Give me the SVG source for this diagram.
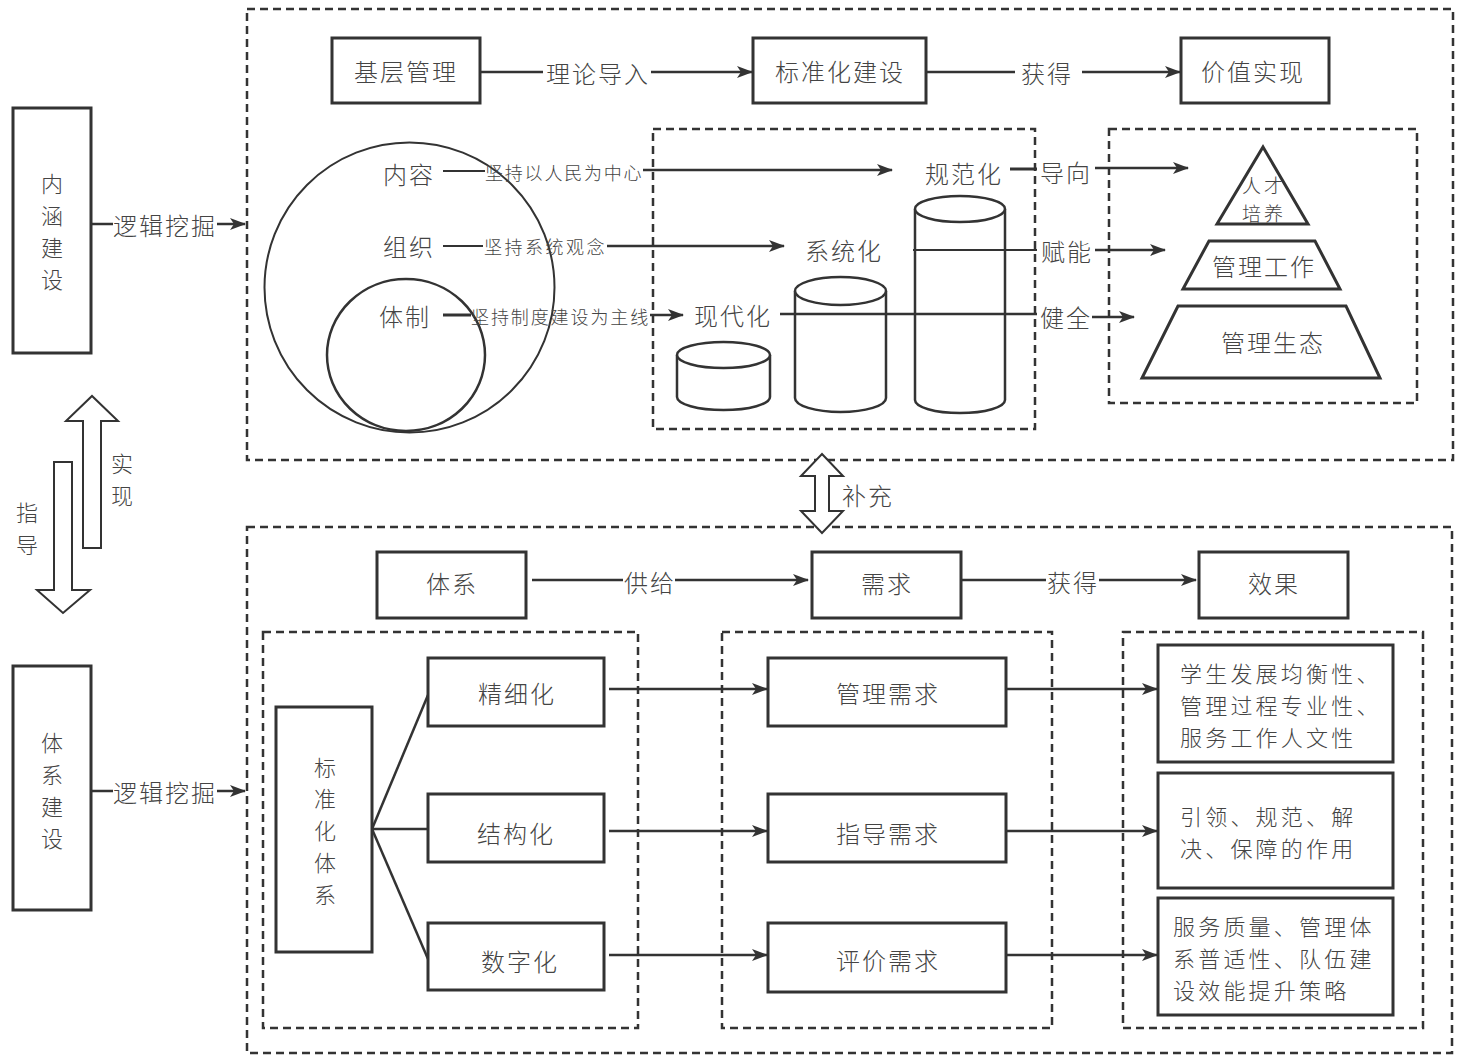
<svg xmlns="http://www.w3.org/2000/svg" width="1461" height="1059" viewBox="0 0 1461 1059">
<defs>
<style>
text{font-family:"Noto Sans CJK SC","Noto Sans",sans-serif;fill:#444;font-weight:300;dominant-baseline:central}
.t24{font-size:24px;letter-spacing:2px;text-anchor:middle}
.v22{font-size:22px;text-anchor:middle}
.t20{font-size:19px;letter-spacing:3px;text-anchor:middle}
.t18{font-size:18px}
.lft{font-size:22px;letter-spacing:3.2px;text-anchor:start}
.box{fill:#fff;stroke:#333;stroke-width:3}
.dash{fill:none;stroke:#333;stroke-width:2.5;stroke-dasharray:8 5}
.ln{fill:none;stroke:#333;stroke-width:2.5}
.ar{fill:none;stroke:#333;stroke-width:2.5;marker-end:url(#ah)}
.shape{fill:#fff;stroke:#333;stroke-width:2.5}
.hollow{fill:#fff;stroke:#333;stroke-width:2}
</style>
<marker id="ah" viewBox="0 0 16 12" refX="15" refY="6" markerWidth="16" markerHeight="12" markerUnits="userSpaceOnUse" orient="auto">
<path d="M0,0 L16,6 L0,12 L4,6 Z" fill="#333"/>
</marker>
</defs>
<rect width="1461" height="1059" fill="#fff"/>

<!-- frames -->
<g id="frames">
<rect class="dash" x="247" y="9" width="1206" height="451"/>
<rect class="dash" x="653" y="129" width="382" height="300"/>
<rect class="dash" x="1109" y="129" width="308" height="274"/>
<rect class="dash" x="247" y="527" width="1205" height="526"/>
<rect class="dash" x="263" y="632" width="375" height="396"/>
<rect class="dash" x="722" y="632" width="330" height="396"/>
<rect class="dash" x="1123" y="632" width="300" height="396"/>
</g>

<!-- left side -->
<g id="neihan">
<rect class="box" x="13" y="108" width="78" height="245"/>
<text class="v22" x="52" y="182"><tspan x="52" y="182">内</tspan><tspan x="52" y="214">涵</tspan><tspan x="52" y="246">建</tspan><tspan x="52" y="278">设</tspan></text>
</g>
<g id="tixijianshe">
<rect class="box" x="13" y="666" width="78" height="244"/>
<text class="v22" x="52" y="741"><tspan x="52" y="741">体</tspan><tspan x="52" y="773">系</tspan><tspan x="52" y="805">建</tspan><tspan x="52" y="837">设</tspan></text>
</g>
<g id="updown">
<polygon class="hollow" points="83,548 83,421 66,421 92,396 118,421 101,421 101,548"/>
<polygon class="hollow" points="54,462 72,462 72,590 90,590 63,613 37,590 54,590"/>
<text class="v22" x="122" y="462"><tspan x="122" y="462">实</tspan><tspan x="122" y="494">现</tspan></text>
<text class="v22" x="27" y="511"><tspan x="27" y="511">指</tspan><tspan x="27" y="543">导</tspan></text>
</g>
<g id="buchong">
<polygon class="hollow" points="822,454 843,476 829,476 829,511 843,511 822,533 801,511 815,511 815,476 801,476"/>
<text class="t24" x="868" y="494">补充</text>
</g>

<!-- top section nodes -->
<g id="jiceng"><rect class="box" x="332" y="38" width="148" height="65"/><text class="t24" x="406" y="70">基层管理</text></g>
<g id="biaozhunhua"><rect class="box" x="753" y="38" width="173" height="65"/><text class="t24" x="840" y="70">标准化建设</text></g>
<g id="jiazhi"><rect class="box" x="1181" y="38" width="148" height="65"/><text class="t24" x="1253" y="70">价值实现</text></g>

<g id="circles">
<circle cx="409.5" cy="287.5" r="145" style="fill:none;stroke:#333;stroke-width:2"/>
<ellipse cx="406" cy="355" rx="79" ry="76" style="fill:none;stroke:#333;stroke-width:2.5"/>
<text class="t24" x="409" y="173">内容</text>
<text class="t24" x="409" y="245">组织</text>
<text class="t24" x="405" y="315">体制</text>
</g>

<g id="cylinders">
<path class="shape" d="M677,355 L677,397 A46.5,13 0 0 0 770,397 L770,355"/>
<ellipse class="shape" cx="723.5" cy="355" rx="46.5" ry="13"/>
<path class="shape" d="M795,291 L795,398 A45.5,14 0 0 0 886,398 L886,291"/>
<ellipse class="shape" cx="840.5" cy="291" rx="45.5" ry="14"/>
<path class="shape" d="M915,209 L915,400 A45,13 0 0 0 1005,400 L1005,209"/>
<ellipse class="shape" cx="960" cy="209" rx="45" ry="13"/>
<text class="t24" x="964" y="172">规范化</text>
<text class="t24" x="844" y="249">系统化</text>
<text class="t24" x="733" y="314">现代化</text>
</g>

<g id="pyramid">
<polygon class="shape" points="1263,147 1308,224 1217,224" style="stroke-width:3"/>
<polygon class="shape" points="1209,241 1315,241 1340,289 1183,289" style="stroke-width:3"/>
<polygon class="shape" points="1178,306 1346,306 1380,378 1142,378" style="stroke-width:3"/>
<text class="t20" x="1264" y="184"><tspan x="1264" y="184">人才</tspan><tspan x="1264" y="212">培养</tspan></text>
<text class="t24" x="1264" y="265">管理工作</text>
<text class="t24" x="1273" y="341">管理生态</text>
</g>

<!-- bottom section nodes -->
<g id="tixi"><rect class="box" x="377" y="552" width="149" height="66"/><text class="t24" x="452" y="582">体系</text></g>
<g id="xuqiu"><rect class="box" x="812" y="552" width="149" height="66"/><text class="t24" x="887" y="582">需求</text></g>
<g id="xiaoguo"><rect class="box" x="1199" y="552" width="149" height="66"/><text class="t24" x="1274" y="582">效果</text></g>

<g id="bzhtx">
<rect class="box" x="276" y="707" width="96" height="245"/>
<text class="v22" x="325" y="766"><tspan x="325" y="766">标</tspan><tspan x="325" y="797">准</tspan><tspan x="325" y="829">化</tspan><tspan x="325" y="861">体</tspan><tspan x="325" y="893">系</tspan></text>
</g>
<g id="jingxihua"><rect class="box" x="428" y="658" width="176" height="68"/><text class="t24" x="517" y="692">精细化</text></g>
<g id="jiegouhua"><rect class="box" x="428" y="794" width="176" height="68"/><text class="t24" x="516" y="832">结构化</text></g>
<g id="shuzihua"><rect class="box" x="428" y="923" width="176" height="67"/><text class="t24" x="520" y="960">数字化</text></g>

<g id="guanlixuqiu"><rect class="box" x="768" y="658" width="238" height="68"/><text class="t24" x="888" y="692">管理需求</text></g>
<g id="zhidaoxuqiu"><rect class="box" x="768" y="794" width="238" height="68"/><text class="t24" x="888" y="832">指导需求</text></g>
<g id="pingjiaxuqiu"><rect class="box" x="768" y="923" width="238" height="69"/><text class="t24" x="888" y="959">评价需求</text></g>

<g id="effect1"><rect class="box" x="1158" y="645" width="235" height="117"/>
<text class="lft" x="1180" y="672"><tspan x="1180" y="672">学生发展均衡性、</tspan><tspan x="1180" y="704">管理过程专业性、</tspan><tspan x="1180" y="736">服务工作人文性</tspan></text></g>
<g id="effect2"><rect class="box" x="1158" y="773" width="235" height="115"/>
<text class="lft" x="1180" y="815"><tspan x="1180" y="815">引领、规范、解</tspan><tspan x="1180" y="847">决、保障的作用</tspan></text></g>
<g id="effect3"><rect class="box" x="1158" y="898" width="235" height="117"/>
<text class="lft" x="1173" y="925"><tspan x="1173" y="925">服务质量、管理体</tspan><tspan x="1173" y="957">系普适性、队伍建</tspan><tspan x="1173" y="989">设效能提升策略</tspan></text></g>

<!-- connectors -->
<g id="connectors">
<line class="ln" x1="91" y1="224" x2="113" y2="224"/>
<line class="ar" x1="217" y1="224" x2="245" y2="224"/>
<line class="ln" x1="91" y1="791" x2="113" y2="791"/>
<line class="ar" x1="217" y1="791" x2="245" y2="791"/>

<line class="ln" x1="480" y1="72" x2="543" y2="72"/>
<line class="ar" x1="651" y1="72" x2="752" y2="72"/>
<line class="ln" x1="926" y1="72" x2="1015" y2="72"/>
<line class="ar" x1="1082" y1="72" x2="1180" y2="72"/>

<line class="ln" x1="443" y1="171" x2="485" y2="171" style="stroke-width:2"/>
<line class="ar" x1="643" y1="170" x2="892" y2="170"/>
<line class="ln" x1="443" y1="246" x2="483" y2="246" style="stroke-width:2"/>
<line class="ar" x1="607" y1="246" x2="784" y2="246"/>
<line class="ln" x1="443" y1="315" x2="471" y2="315" style="stroke-width:3"/>
<line class="ar" x1="650" y1="315" x2="683" y2="315"/>

<line class="ln" x1="1010" y1="169" x2="1037" y2="169" style="stroke-width:3"/>
<line class="ar" x1="1095" y1="168" x2="1188" y2="168"/>
<line class="ln" x1="913" y1="250" x2="1037" y2="250" style="stroke-width:2"/>
<line class="ar" x1="1095" y1="250" x2="1165" y2="250"/>
<line class="ln" x1="780" y1="314" x2="1037" y2="314"/>
<line class="ar" x1="1092" y1="317" x2="1134" y2="317"/>

<line class="ln" x1="532" y1="580" x2="623" y2="580"/>
<line class="ar" x1="675" y1="580" x2="808" y2="580"/>
<line class="ln" x1="961" y1="580" x2="1046" y2="580"/>
<line class="ar" x1="1099" y1="580" x2="1196" y2="580"/>

<line class="ln" x1="372" y1="829" x2="428" y2="695"/>
<line class="ln" x1="372" y1="829" x2="428" y2="829"/>
<line class="ln" x1="372" y1="829" x2="428" y2="959"/>

<line class="ar" x1="609" y1="689" x2="767" y2="689"/>
<line class="ar" x1="609" y1="831" x2="767" y2="831"/>
<line class="ar" x1="609" y1="955" x2="767" y2="955"/>
<line class="ar" x1="1006" y1="689" x2="1157" y2="689"/>
<line class="ar" x1="1006" y1="831" x2="1157" y2="831"/>
<line class="ar" x1="1006" y1="955" x2="1157" y2="955"/>
</g>

<!-- connector labels -->
<g id="labels">
<text class="t24" x="165" y="224">逻辑挖掘</text>
<text class="t24" x="165" y="791">逻辑挖掘</text>
<text class="t24" x="598" y="72">理论导入</text>
<text class="t24" x="1047" y="72">获得</text>
<text class="t18" x="485" y="172" style="letter-spacing:1.8px">坚持以人民为中心</text>
<text class="t18" x="484" y="246" style="letter-spacing:2.5px">坚持系统观念</text>
<text class="t18" x="471" y="316" style="letter-spacing:1.9px">坚持制度建设为主线</text>
<text class="t24" x="1066" y="171">导向</text>
<text class="t24" x="1067" y="250">赋能</text>
<text class="t24" x="1066" y="316">健全</text>
<text class="t24" x="650" y="581">供给</text>
<text class="t24" x="1073" y="581">获得</text>
</g>
</svg>
